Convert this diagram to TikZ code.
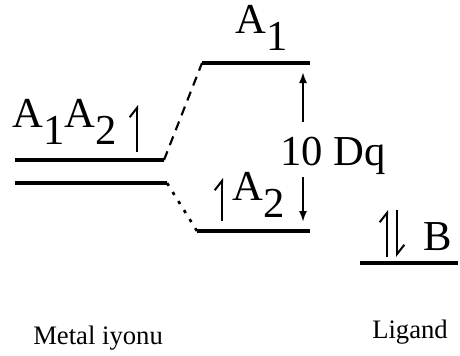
\documentclass[tikz,border=0pt]{standalone}
\usepackage{fontspec}
\setmainfont{Liberation Serif}
\usetikzlibrary{arrows.meta, calc}
\newcommand{\lo}[1]{\raisebox{-13pt}{#1}}

\begin{document}
\begin{tikzpicture}[x=0.75pt, y=-0.75pt,
        level/.style={line width=3pt},
        lbl/.style={inner sep=0pt, anchor=base west, font=\fontsize{32}{36}\selectfont},
        sidelbl/.style={inner sep=0pt, anchor=base west, font=\fontsize{20}{24}\selectfont},
        spin/.style={line width=1.5pt, -{Straight Barb[left, length=7pt, width=11pt, line width=1.5pt]}},
        gaparrow/.style={line width=1.2pt, -{Latex[length=8pt, width=6pt]}}
    ]
        \useasboundingbox (0,0) rectangle (460,355);
        % metal ion levels
        \coordinate (m1w) at (15,160); \coordinate (m1e) at (164,160);
        \coordinate (m2w) at (15,183); \coordinate (m2e) at (167,183);
        % split levels
        \coordinate (a1w) at (202,63); \coordinate (a1e) at (310,63);
        \coordinate (a2w) at (197,231); \coordinate (a2e) at (310,231);
        % ligand level
        \coordinate (lw) at (360,263); \coordinate (le) at (458,263);
        \draw[level] (m1w) -- (m1e);
        \draw[level] (m2w) -- (m2e);
        \draw[level] (a1w) -- (a1e);
        \draw[level] (a2w) -- (a2e);
        \draw[level] (lw) -- (le);
        \draw[line width=1.6pt, dash pattern=on 7pt off 5pt] (m1e) -- (a1w);
        \draw[line width=2pt, dash pattern=on 2.5pt off 5.5pt] (m2e) -- (a2w);

        \node[lbl] (ma) at (12,127) {A\lo{1}A\lo{2}};
        \node[lbl] (ta) at (235,33) {A\lo{1}};
        \node[lbl] (ba) at (232,200) {A\lo{2}};
        \node[lbl] (dq) at (280,165) {10 Dq};
        \node[lbl] (lb) at (423,250) {B};
        \node[sidelbl] (metal) at (33,344) {Metal iyonu};
        \node[sidelbl] (lig) at (372,338) {Ligand};

        % spins
        \coordinate (s1) at (137,152); \coordinate (s1t) at (137,105);
        \coordinate (s2) at (222,221); \coordinate (s2t) at (222,178);
        \coordinate (s3) at (387,257); \coordinate (s3t) at (387,210);
        \coordinate (s4) at (397,210); \coordinate (s4t) at (397,257);
        \draw[spin] (s1) -- (s1t);
        \draw[spin] (s2) -- (s2t);
        \draw[spin] (s3) -- (s3t);
        \draw[spin] (s4) -- (s4t);

        \coordinate (gt) at (303,63); \coordinate (gb) at (303,231);
        \draw[gaparrow, shorten >=7pt] ($(gt)!0.35!(gb)$) -- (gt);
        \draw[gaparrow, shorten >=7pt] ($(gt)!0.68!(gb)$) -- (gb);
    \end{tikzpicture}
\end{document}
